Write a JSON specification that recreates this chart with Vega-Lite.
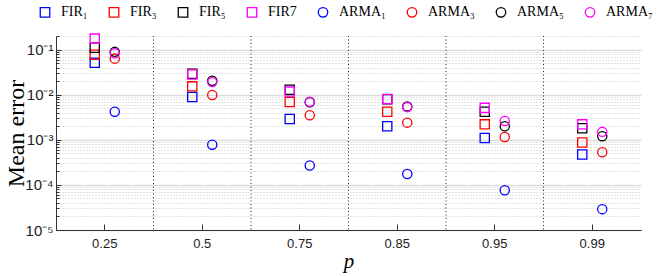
{
  "$schema": "https://vega.github.io/schema/vega-lite/v6.json",
  "autosize": "none",
  "width": 585,
  "height": 194,
  "padding": {"left": 56, "top": 36, "right": 19, "bottom": 46},
  "background": "white",
  "config": {"view": {"stroke": null}},
  "datasets": {
    "seps": [{"p": "0.5"}, {"p": "0.75"}, {"p": "0.85"}, {"p": "0.95"}, {"p": "0.99"}],
    "pts": [
      {"p": "0.25", "series": "FIR₁", "type": "FIR", "err": 0.051},
      {"p": "0.5", "series": "FIR₁", "type": "FIR", "err": 0.0089},
      {"p": "0.75", "series": "FIR₁", "type": "FIR", "err": 0.0029},
      {"p": "0.85", "series": "FIR₁", "type": "FIR", "err": 0.002},
      {"p": "0.95", "series": "FIR₁", "type": "FIR", "err": 0.0011},
      {"p": "0.99", "series": "FIR₁", "type": "FIR", "err": 0.00047},
      {"p": "0.25", "series": "FIR₃", "type": "FIR", "err": 0.077},
      {"p": "0.5", "series": "FIR₃", "type": "FIR", "err": 0.0153},
      {"p": "0.75", "series": "FIR₃", "type": "FIR", "err": 0.0069},
      {"p": "0.85", "series": "FIR₃", "type": "FIR", "err": 0.0042},
      {"p": "0.95", "series": "FIR₃", "type": "FIR", "err": 0.0022},
      {"p": "0.99", "series": "FIR₃", "type": "FIR", "err": 0.00087},
      {"p": "0.25", "series": "FIR₅", "type": "FIR", "err": 0.11},
      {"p": "0.5", "series": "FIR₅", "type": "FIR", "err": 0.029},
      {"p": "0.75", "series": "FIR₅", "type": "FIR", "err": 0.0129},
      {"p": "0.85", "series": "FIR₅", "type": "FIR", "err": 0.0079},
      {"p": "0.95", "series": "FIR₅", "type": "FIR", "err": 0.0042},
      {"p": "0.99", "series": "FIR₅", "type": "FIR", "err": 0.0018},
      {"p": "0.25", "series": "FIR7", "type": "FIR", "err": 0.175},
      {"p": "0.5", "series": "FIR7", "type": "FIR", "err": 0.028},
      {"p": "0.75", "series": "FIR7", "type": "FIR", "err": 0.0117},
      {"p": "0.85", "series": "FIR7", "type": "FIR", "err": 0.008},
      {"p": "0.95", "series": "FIR7", "type": "FIR", "err": 0.0051},
      {"p": "0.99", "series": "FIR7", "type": "FIR", "err": 0.0022},
      {"p": "0.25", "series": "ARMA₁", "type": "ARMA", "err": 0.0042},
      {"p": "0.5", "series": "ARMA₁", "type": "ARMA", "err": 0.00078},
      {"p": "0.75", "series": "ARMA₁", "type": "ARMA", "err": 0.00027},
      {"p": "0.85", "series": "ARMA₁", "type": "ARMA", "err": 0.000174},
      {"p": "0.95", "series": "ARMA₁", "type": "ARMA", "err": 0.000076},
      {"p": "0.99", "series": "ARMA₁", "type": "ARMA", "err": 0.000029},
      {"p": "0.25", "series": "ARMA₃", "type": "ARMA", "err": 0.063},
      {"p": "0.5", "series": "ARMA₃", "type": "ARMA", "err": 0.0098},
      {"p": "0.75", "series": "ARMA₃", "type": "ARMA", "err": 0.0035},
      {"p": "0.85", "series": "ARMA₃", "type": "ARMA", "err": 0.0024},
      {"p": "0.95", "series": "ARMA₃", "type": "ARMA", "err": 0.00115},
      {"p": "0.99", "series": "ARMA₃", "type": "ARMA", "err": 0.00053},
      {"p": "0.25", "series": "ARMA₅", "type": "ARMA", "err": 0.089},
      {"p": "0.5", "series": "ARMA₅", "type": "ARMA", "err": 0.0204},
      {"p": "0.75", "series": "ARMA₅", "type": "ARMA", "err": 0.0068},
      {"p": "0.85", "series": "ARMA₅", "type": "ARMA", "err": 0.0055},
      {"p": "0.95", "series": "ARMA₅", "type": "ARMA", "err": 0.002},
      {"p": "0.99", "series": "ARMA₅", "type": "ARMA", "err": 0.0012},
      {"p": "0.25", "series": "ARMA₇", "type": "ARMA", "err": 0.083},
      {"p": "0.5", "series": "ARMA₇", "type": "ARMA", "err": 0.019},
      {"p": "0.75", "series": "ARMA₇", "type": "ARMA", "err": 0.007},
      {"p": "0.85", "series": "ARMA₇", "type": "ARMA", "err": 0.0053},
      {"p": "0.95", "series": "ARMA₇", "type": "ARMA", "err": 0.0026},
      {"p": "0.99", "series": "ARMA₇", "type": "ARMA", "err": 0.0015}
    ]
  },
  "layer": [
    {
      "data": {"name": "seps"},
      "mark": {"type": "rule", "strokeDash": [1, 2.5], "color": "#222222", "strokeWidth": 1},
      "encoding": {
        "x": {"field": "p", "type": "nominal", "bandPosition": 0,
          "scale": {"type": "band", "domain": ["0.25", "0.5", "0.75", "0.85", "0.95", "0.99"], "paddingInner": 0, "paddingOuter": 0}}
      }
    },
    {
      "data": {"name": "pts"},
      "mark": {"type": "point", "filled": false, "strokeWidth": 1.3, "size": 85, "opacity": 1},
      "encoding": {
        "x": {"field": "p", "type": "nominal",
          "scale": {"type": "band", "domain": ["0.25", "0.5", "0.75", "0.85", "0.95", "0.99"], "paddingInner": 0, "paddingOuter": 0},
          "axis": {
            "title": "p", "titleFont": "Liberation Serif", "titleFontStyle": "italic", "titleFontWeight": "normal", "titleFontSize": 21, "titleColor": "#000000",
            "titleY": 37, "titleBaseline": "alphabetic",
            "labelFont": "Liberation Sans", "labelFontSize": 13, "labelColor": "#222222", "labelAngle": 0, "labelAlign": "center", "labelBaseline": "top", "labelPadding": 13,
            "domainColor": "#333333", "domainWidth": 1, "tickColor": "#333333", "tickSize": -6, "tickWidth": 1, "grid": false
          }},
        "xOffset": {"field": "type", "type": "nominal",
          "scale": {"type": "point", "domain": ["FIR", "ARMA"], "range": [38.75, 58.75], "padding": 0}},
        "y": {"field": "err", "type": "quantitative",
          "scale": {"type": "log", "domain": [0.00001, 0.2], "nice": false},
          "axis": {
            "title": "Mean error", "titleFont": "Liberation Serif", "titleFontWeight": "normal", "titleFontSize": 24, "titleColor": "#000000",
            "titleX": -40, "titleBaseline": "middle",
            "values": [0.00001, 0.00002, 0.00003, 0.00004, 0.00005, 0.00006, 0.00007, 0.00008, 0.00009,
                       0.0001, 0.0002, 0.0003, 0.0004, 0.0005, 0.0006, 0.0007, 0.0008, 0.0009,
                       0.001, 0.002, 0.003, 0.004, 0.005, 0.006, 0.007, 0.008, 0.009,
                       0.01, 0.02, 0.03, 0.04, 0.05, 0.06, 0.07, 0.08, 0.09, 0.1, 0.2],
            "labelExpr": "abs(log(datum.value)/LN10 - round(log(datum.value)/LN10)) < 0.001 ? '10⁻' + ['⁰','¹','²','³','⁴','⁵'][-round(log(datum.value)/LN10)] : ''",
            "labelFont": "Liberation Sans", "labelFontSize": 15, "labelColor": "#222222", "labelPadding": 8,
            "domainColor": "#333333", "domainWidth": 1,
            "tickColor": "#333333", "tickWidth": 1,
            "tickSize": {"condition": {"test": "abs(log(datum.value)/LN10 - round(log(datum.value)/LN10)) < 0.001", "value": -5}, "value": -3},
            "grid": true,
            "gridColor": {"condition": {"test": "abs(log(datum.value)/LN10 - round(log(datum.value)/LN10)) < 0.001", "value": "#dddddd"}, "value": "#bdbdbd"},
            "gridWidth": {"condition": {"test": "abs(log(datum.value)/LN10 - round(log(datum.value)/LN10)) < 0.001", "value": 1.5}, "value": 0.8},
            "gridDash": {"condition": {"test": "abs(log(datum.value)/LN10 - round(log(datum.value)/LN10)) < 0.001", "value": []}, "value": [1, 2]}
          }},
        "color": {"field": "series", "type": "nominal",
          "scale": {"domain": ["FIR₁", "FIR₃", "FIR₅", "FIR7", "ARMA₁", "ARMA₃", "ARMA₅", "ARMA₇"],
                    "range": ["#0000ff", "#ff0000", "#000000", "#ff00ff", "#0000ff", "#ff0000", "#000000", "#ff00ff"]},
          "legend": {"title": null, "orient": "none", "legendX": -18, "legendY": -31, "direction": "horizontal",
            "labelFont": "Liberation Serif", "labelFontSize": 14, "labelColor": "#000000", "labelOffset": 9,
            "columnPadding": 18, "symbolSize": 90, "symbolStrokeWidth": 1.3, "padding": 0}},
        "shape": {"field": "series", "type": "nominal",
          "scale": {"domain": ["FIR₁", "FIR₃", "FIR₅", "FIR7", "ARMA₁", "ARMA₃", "ARMA₅", "ARMA₇"],
                    "range": ["square", "square", "square", "square", "circle", "circle", "circle", "circle"]},
          "legend": {"title": null, "orient": "none", "legendX": -18, "legendY": -31, "direction": "horizontal",
            "labelFont": "Liberation Serif", "labelFontSize": 14, "labelColor": "#000000", "labelOffset": 9,
            "columnPadding": 18, "symbolSize": 90, "symbolStrokeWidth": 1.3, "padding": 0}}
      }
    }
  ]
}
